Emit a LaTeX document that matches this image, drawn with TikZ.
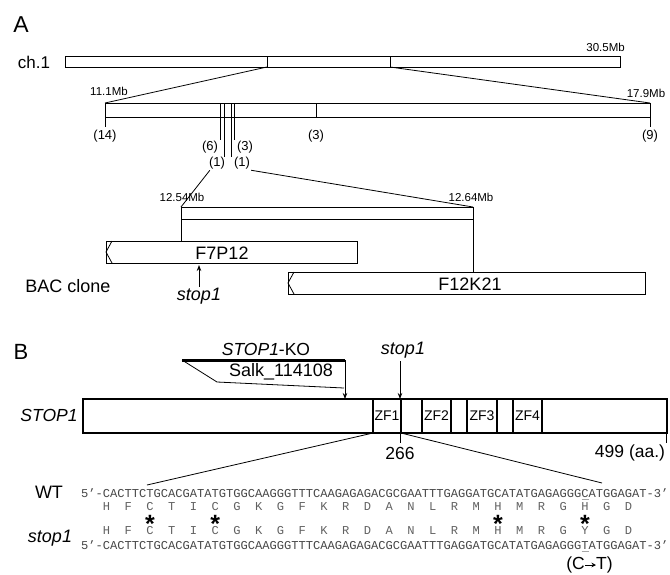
\documentclass[tikz,border=0pt]{standalone}
\usepackage{fontspec}
\setmainfont{Liberation Sans}
\newfontfamily\seqfont{Liberation Mono}
\usetikzlibrary{arrows.meta}
\newcommand{\fsz}[1]{\fontsize{#1pt}{#1pt}\selectfont}

\begin{document}
\begin{tikzpicture}[x=1pt, y=-1pt,
	mapline/.style={color=black, line width=0.8pt},
	barline/.style={color=black, line width=2.5pt},
	mb/.style={font=\fsz{11.5}, inner sep=1pt},
	cnt/.style={font=\fsz{13}, inner sep=1pt},
	lbl/.style={font=\fsz{18}, inner sep=1pt},
	zf/.style={font=\fsz{14}, inner sep=1pt},
	seqrow/.style={font=\seqfont\fsz{12.08}, text=black!72, inner sep=0pt, anchor=west},
	aarow/.style={font=\seqfont\fsz{12.08}, text=black!62, inner sep=0pt},
	snp/.style={font=\bfseries\fsz{25}, inner sep=0pt, anchor=base},
	arr/.style={-{Stealth[length=6pt, width=4.5pt]}}]
	
	\useasboundingbox (0,0) rectangle (670,574);
	
	\node[font=\fsz{23}] (labA) at (21,25) {A};
	\node[font=\fsz{17}] (ch) at (34,62) {ch.1};
	\node[mb, anchor=east] (top) at (626,47) {30.5Mb};
	\draw[mapline] (65,56) rectangle (620,67);
	\draw[mapline] (267,56) -- (267,67) coordinate (cutL);
	\draw[mapline] (390,56) -- (390,67) coordinate (cutR);
	
	\node[mb] (m111) at (109,91) {11.1Mb};
	\node[mb] (m179) at (646,93) {17.9Mb};
	\draw[mapline] (105,103) coordinate (regL) rectangle (650,117) coordinate (regR);
	\draw[mapline] (cutL) -- (regL);
	\draw[mapline] (cutR) -- (650,103);
	\draw[mapline] (105,117) -- (105,127);
	\draw[mapline] (650,117) -- (650,127);
	\draw[mapline] (316,103) -- (316,117);
	\draw[mapline] (220,103) -- (220,140);
	\draw[mapline] (224.5,103) -- (224.5,157);
	\draw[mapline] (231,103) -- (231,157);
	\draw[mapline] (234.5,103) -- (234.5,140);
	
	\node[cnt] (n14) at (105,136) {(14)};
	\node[cnt] (n3a) at (316,136) {(3)};
	\node[cnt] (n9) at (650,136) {(9)};
	\node[cnt] (n6) at (210,147) {(6)};
	\node[cnt] (n3b) at (245,147) {(3)};
	\node[cnt] (n1a) at (217,163) {(1)};
	\node[cnt] (n1b) at (242,163) {(1)};
	
	\node[mb] (m1254) at (182,197) {12.54Mb};
	\node[mb] (m1264) at (471,197) {12.64Mb};
	\draw[mapline] (181,207) coordinate (subL) rectangle (473,219);
	\coordinate (subR) at (473,207);
	\draw[mapline] ([xshift=2pt]n1a.south west) -- (subL);
	\draw[mapline] (n1b.south east) -- (subR);
	\draw[mapline] (181,219) -- (181,241);
	\draw[mapline] (473,219) -- (473,272);
	
	\draw[mapline] (106,241) rectangle (357,263);
	\draw[mapline] (112,241) -- (106,252) -- (112,263);
	\node[lbl] (f7) at (222,253) {F7P12};
	\draw[mapline] (288,272) rectangle (645,294);
	\draw[mapline] (294,272) -- (288,283) -- (294,294);
	\node[lbl] (f12) at (470,284) {F12K21};
	\node[lbl] (bac) at (68,286) {BAC clone};
	\node[lbl, font=\fsz{18}\itshape] (stA) at (199,296) {stop1};
	\draw[mapline, arr] (stA.north) -- (199,265);
	
	\node[font=\fsz{22}] (labB) at (21,352) {B};
	\node[font=\fsz{17.5}, inner sep=1pt] (ko) at (266,349) {\itshape STOP1\/\upshape -KO};
	\draw[color=black, line width=3pt] (182,360) -- (345,360);
	\draw[mapline] (182,360) -- (217,382) -- (344,388);
	\node[lbl] (salk) at (281,372) {Salk\_114108};
	\draw[mapline, arr] (345,360) -- (345,399);
	\node[lbl, font=\fsz{18}\itshape] (stB) at (403,350) {stop1};
	\draw[mapline, arr] (400,361) -- (400,399);
	
	\draw[barline] (83,399) rectangle (667,433);
	\draw[color=black, line width=1.5pt] (373,399) rectangle (401,433);
	\draw[color=black, line width=1.5pt] (422,399) rectangle (451,433);
	\draw[color=black, line width=1.5pt] (467,399) rectangle (497,433);
	\draw[color=black, line width=1.5pt] (513,399) rectangle (542,433);
	\node[zf] (zf1) at (387,416) {ZF1};
	\node[zf] (zf2) at (436.5,416) {ZF2};
	\node[zf] (zf3) at (482,416) {ZF3};
	\node[zf] (zf4) at (527.5,416) {ZF4};
	\node[font=\fsz{17.5}\itshape, inner sep=1pt] (gene) at (49,415) {STOP1};
	\draw[mapline] (400,433) -- (400,443);
	\node[font=\fsz{17.5}, inner sep=1pt] (p266) at (400,453) {266};
	\draw[mapline] (666,433) -- (666,443);
	\node[font=\fsz{17.5}, inner sep=1pt] (p499) at (630,453) {499 (aa.)};
	\draw[mapline] (373,433) -- (147,485);
	\draw[mapline] (401,433) -- (602,483);
	
	\node[lbl] (wt) at (49,492) {WT};
	\node[lbl, font=\fsz{18}\itshape] (mut) at (50,538) {stop1};
	\node[seqrow] (seqwt) at (81,493) {5’-CACTTCTGCACGATATGTGGCAAGGGTTTCAAGAGAGACGCGAATTTGAGGATGCATATGAGAGGGCATGGAGAT-3’};
	\node[seqrow] (seqmut) at (81,545) {5’-CACTTCTGCACGATATGTGGCAAGGGTTTCAAGAGAGACGCGAATTTGAGGATGCATATGAGAGGGTATGGAGAT-3’};
	\foreach \aa [count=\k from 0] in {H,F,C,T,I,C,G,K,G,F,K,R,D,A,N,L,R,M,H,M,R,G,H,G,D}
		\node[aarow] at ({81+(3.5+3*\k)*7.25},507) {\aa};
	\foreach \aa [count=\k from 0] in {H,F,C,T,I,C,G,K,G,F,K,R,D,A,N,L,R,M,H,M,R,G,Y,G,D}
		\node[aarow] at ({81+(3.5+3*\k)*7.25},531) {\aa};
	\foreach \k in {2,5,18,22}
		\node[snp] at ({81+(3.5+3*\k)*7.25},532) {*};
	\draw[color=black!35, line width=1.2pt] (581.5,499.5) -- (588.5,499.5);
	\draw[color=black!35, line width=1.2pt] (581.5,551.5) -- (588.5,551.5);
	\node[font=\fsz{17.5}, inner sep=0pt, anchor=east] (ctL) at (585,565) {(C};
	\node[font=\fsz{17.5}, inner sep=0pt, anchor=west] (ctR) at (596,565) {T)};
	\draw[line width=0.9pt, -{Stealth[length=4.5pt, width=4.5pt]}] (ctL.east) -- (ctR.west);
	
\end{tikzpicture}
\end{document}
